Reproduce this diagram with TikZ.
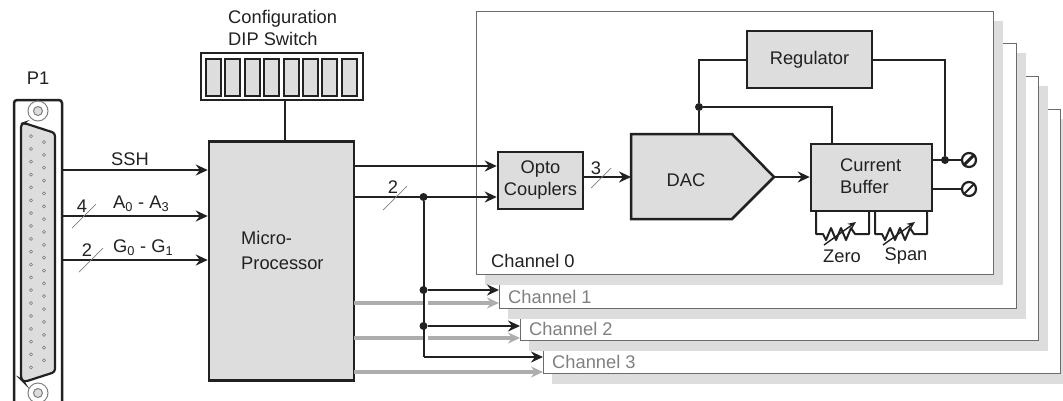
\documentclass[tikz,border=0pt]{standalone}
\usepackage{fontspec}
\setmainfont{Liberation Sans}
\usetikzlibrary{arrows.meta,calc}
\definecolor{panelgray}{gray}{0.865}
\definecolor{inkblack}{gray}{0.13}
\definecolor{chanline}{gray}{0.42}
\definecolor{busgray}{gray}{0.68}
\tikzset{
    blockbox/.style={draw=inkblack, line width=2.5pt, fill=panelgray, inner sep=0pt, font=\fontsize{18.3}{22}\selectfont, text=inkblack},
    wire/.style={draw=inkblack, line width=2pt},
    sigarrow/.style={wire, -{Stealth[length=12pt,width=11pt,inset=4pt]}},
    busarrow/.style={draw=busgray, line width=3.2pt, -{Stealth[length=12pt,width=11pt,inset=4pt,color=busgray]}},
    busline/.style={draw=busgray, line width=3.2pt},
    slashmark/.style={draw=gray, line width=0.7pt},
    junction/.style={circle, fill=inkblack, inner sep=0pt, minimum size=8pt},
    lbl/.style={inner sep=0pt, font=\fontsize{18.3}{22}\selectfont, text=inkblack},
    graylbl/.style={lbl, text=gray},
    pin/.style={draw=gray, fill=white, line width=0.7pt},
    terminal/.style={circle, draw=inkblack, line width=2.2pt, fill=white, inner sep=0pt, minimum size=14pt}
}
\begin{document}
\begin{tikzpicture}[x=1pt,y=-1pt]

    \useasboundingbox (0,0) rectangle (1063,400);

    % Channel cards, back to front: shadow first, then the card
    \foreach \cl/\ct/\cr/\cb in {543/109/1060/373, 520/76/1038/340, 499/43/1016/308, 476/11/993/274}{
        \fill[panelgray] (\cl+9,\ct+10) rectangle (\cr+10,\cb+11);
        \draw[chanline, line width=0.9pt, fill=white] (\cl,\ct) rectangle (\cr,\cb);
    }

    % Channel names
    \node[lbl, anchor=west] (ch0) at (491,261) {Channel 0};
    \node[graylbl, anchor=west] (ch1) at (508,297) {Channel 1};
    \node[graylbl, anchor=west] (ch2) at (529,329) {Channel 2};
    \node[graylbl, anchor=west] (ch3) at (552,362) {Channel 3};

    % Connector P1
    \node[lbl] (p1) at (38,78) {P1};
    \draw[inkblack, line width=2.5pt, rounded corners=3pt, fill=white] (14,410) -- (14,100) -- (62,100) -- (62,410);
    \draw[inkblack, line width=2.2pt, fill=panelgray, rounded corners=3pt] (21,124) -- (24,123) -- (55,133) -- (55,372) -- (24,382) -- (21,379) -- cycle;
    \foreach \i in {0,...,18}
        \draw[pin] (31,136+12.85*\i) circle (1.5);
    \foreach \i in {0,...,17}
        \draw[pin] (44,142+12.85*\i) circle (1.5);
    \foreach \sy in {111,393}{
        \draw[gray, line width=1pt] (38,\sy) circle (10);
        \draw[gray, line width=1pt, fill=panelgray] (38,\sy) circle (4.5);
    }

    % Blocks
    \node[blockbox, minimum width=145pt, minimum height=239pt] (mp) at (281.5,261) {};
    \node[lbl, anchor=west, align=left] (mplabel) at (241,250.5) {Micro-\\[3pt]Processor};
    \node[blockbox, minimum width=85pt, minimum height=57pt, align=center] (opto) at (540.5,180.5) {Opto\\Couplers};
    \node[blockbox, minimum width=125pt, minimum height=57pt] (reg) at (809.5,59.5) {Regulator};
    \node[blockbox, minimum width=121pt, minimum height=67pt] (buffer) at (871.5,177.5) {};
    \node[lbl, anchor=west, align=left] (bufferlabel) at (840,176.5) {Current\\Buffer};

    % DAC outline
    \coordinate (dacNW) at (631,134);
    \coordinate (dacTip) at (774,177);
    \coordinate (dacIn) at (631,177);
    \coordinate (dacTop) at (699,134);
    \draw[blockbox] (dacNW) -- (732,134) -- (dacTip) -- (732,219) -- (631,219) -- cycle;
    \node[lbl] (daclabel) at (686,180) {DAC};

    % DIP switch
    \node[lbl, anchor=west, align=left] (diplabel) at (228,28) {Configuration\\DIP Switch};
    \node[draw=inkblack, line width=2.5pt, fill=white, minimum width=162pt, minimum height=47pt, inner sep=0pt] (dip) at (282,76.5) {};
    \foreach \i in {0,...,7}
        \draw[inkblack, line width=2pt, fill=panelgray] (206+19.4*\i,58.5) rectangle (221+19.4*\i,96);
    \coordinate (dipTap) at (285,141);
    \draw[wire] (dip.south -| dipTap) -- (dipTap);

    % Input lines from P1
    \coordinate (sshA) at (62,170);
    \coordinate (addrA) at (62,216);
    \coordinate (gainA) at (62,260);
    \draw[sigarrow] (sshA) -- (sshA -| mp.west);
    \draw[sigarrow] (addrA) -- (addrA -| mp.west);
    \draw[sigarrow] (gainA) -- (gainA -| mp.west);
    \node[lbl] (ssh) at (130,159) {SSH};
    \node[lbl, anchor=west] (addr) at (113,204) {A\textsubscript{0} - A\textsubscript{3}};
    \node[lbl, anchor=west] (gain) at (113,248) {G\textsubscript{0} - G\textsubscript{1}};
    \draw[slashmark] (72,228) -- (96,204);
    \node[lbl] (addrn) at (82,206) {4};
    \draw[slashmark] (79,272) -- (103,248);
    \node[lbl] (gainn) at (87,250) {2};

    % Microprocessor to the channels
    \coordinate (clkA) at (354,166);
    \coordinate (dataA) at (354,197);
    \draw[sigarrow] (clkA) -- (clkA -| opto.west);
    \draw[sigarrow] (dataA) -- (dataA -| opto.west);
    \draw[slashmark] (383,210) -- (407,186);
    \node[lbl] (datan) at (393,187) {2};

    % Gray lines to channels 1 to 3
    \foreach \gy/\gend in {303/499, 338/520}{
        \draw[busline] (354,\gy) -- (423.5,\gy);
        \draw[busarrow] (428,\gy) -- (\gend,\gy);
    }
    \draw[busarrow] (354,372) -- (543,372);

    % Black bus down to channels 1 to 3
    \node[junction] (j0) at (423.5,197) {};
    \node[junction] (j1) at (423.5,290) {};
    \node[junction] (j2) at (423.5,326) {};
    \coordinate (jend) at (423.5,357);
    \coordinate (ch1In) at (499,290);
    \coordinate (ch2In) at (520,326);
    \coordinate (ch3In) at (543,357);
    \draw[wire] (j0) -- (jend);
    \draw[sigarrow] (j1) -- (ch1In);
    \draw[sigarrow] (j2) -- (ch2In);
    \draw[sigarrow] (jend) -- (ch3In);

    % Inside channel 0
    \draw[sigarrow] (opto.east |- dacIn) -- (dacIn);
    \draw[slashmark] (591,188) -- (611,168);
    \node[lbl] (optn) at (596,168) {3};
    \draw[sigarrow] (dacTip) -- (buffer.west |- dacTip);
    \node[junction] (jreg) at (699,107) {};
    \coordinate (bufTop) at (832,144);
    \draw[wire] (reg.west) -| (jreg) -- (dacTop);
    \draw[wire] (jreg) -| (bufTop);

    % Output terminals
    \node[terminal] (t1) at (969,160) {};
    \node[terminal] (t2) at (969,189) {};
    \draw[inkblack, line width=3pt] (t1.south west) -- (t1.north east);
    \draw[inkblack, line width=1.8pt] (t2.south west) -- (t2.north east);
    \node[junction] (jout) at (945,160) {};
    \draw[wire] (reg.east) -| (jout);
    \draw[wire] (buffer.east |- t1) -- (t1);
    \draw[wire] (buffer.east |- t2) -- (t2);

    % Zero and span trimmers
    \foreach \rl/\rr/\rname/\rtext/\rx in {816/869/zero/Zero/842, 875/927/span/Span/906}{
        \draw[wire, line join=round] (\rl,211) -- (\rl,234) -- (\rl+7,234) -- (\rl+10,240) -- (\rl+15,228) -- (\rl+20,240) -- (\rl+25,228) -- (\rl+30,240) -- (\rl+35,228) -- (\rl+39,234) -- (\rr,234) -- (\rr,211);
        \draw[wire, line width=1.4pt, -{Stealth[length=8pt,width=7pt]}] (\rl+8,245) -- (\rl+40,222);
        \node[lbl] (\rname) at (\rx,256) {\rtext};
    }

\end{tikzpicture}
\end{document}
